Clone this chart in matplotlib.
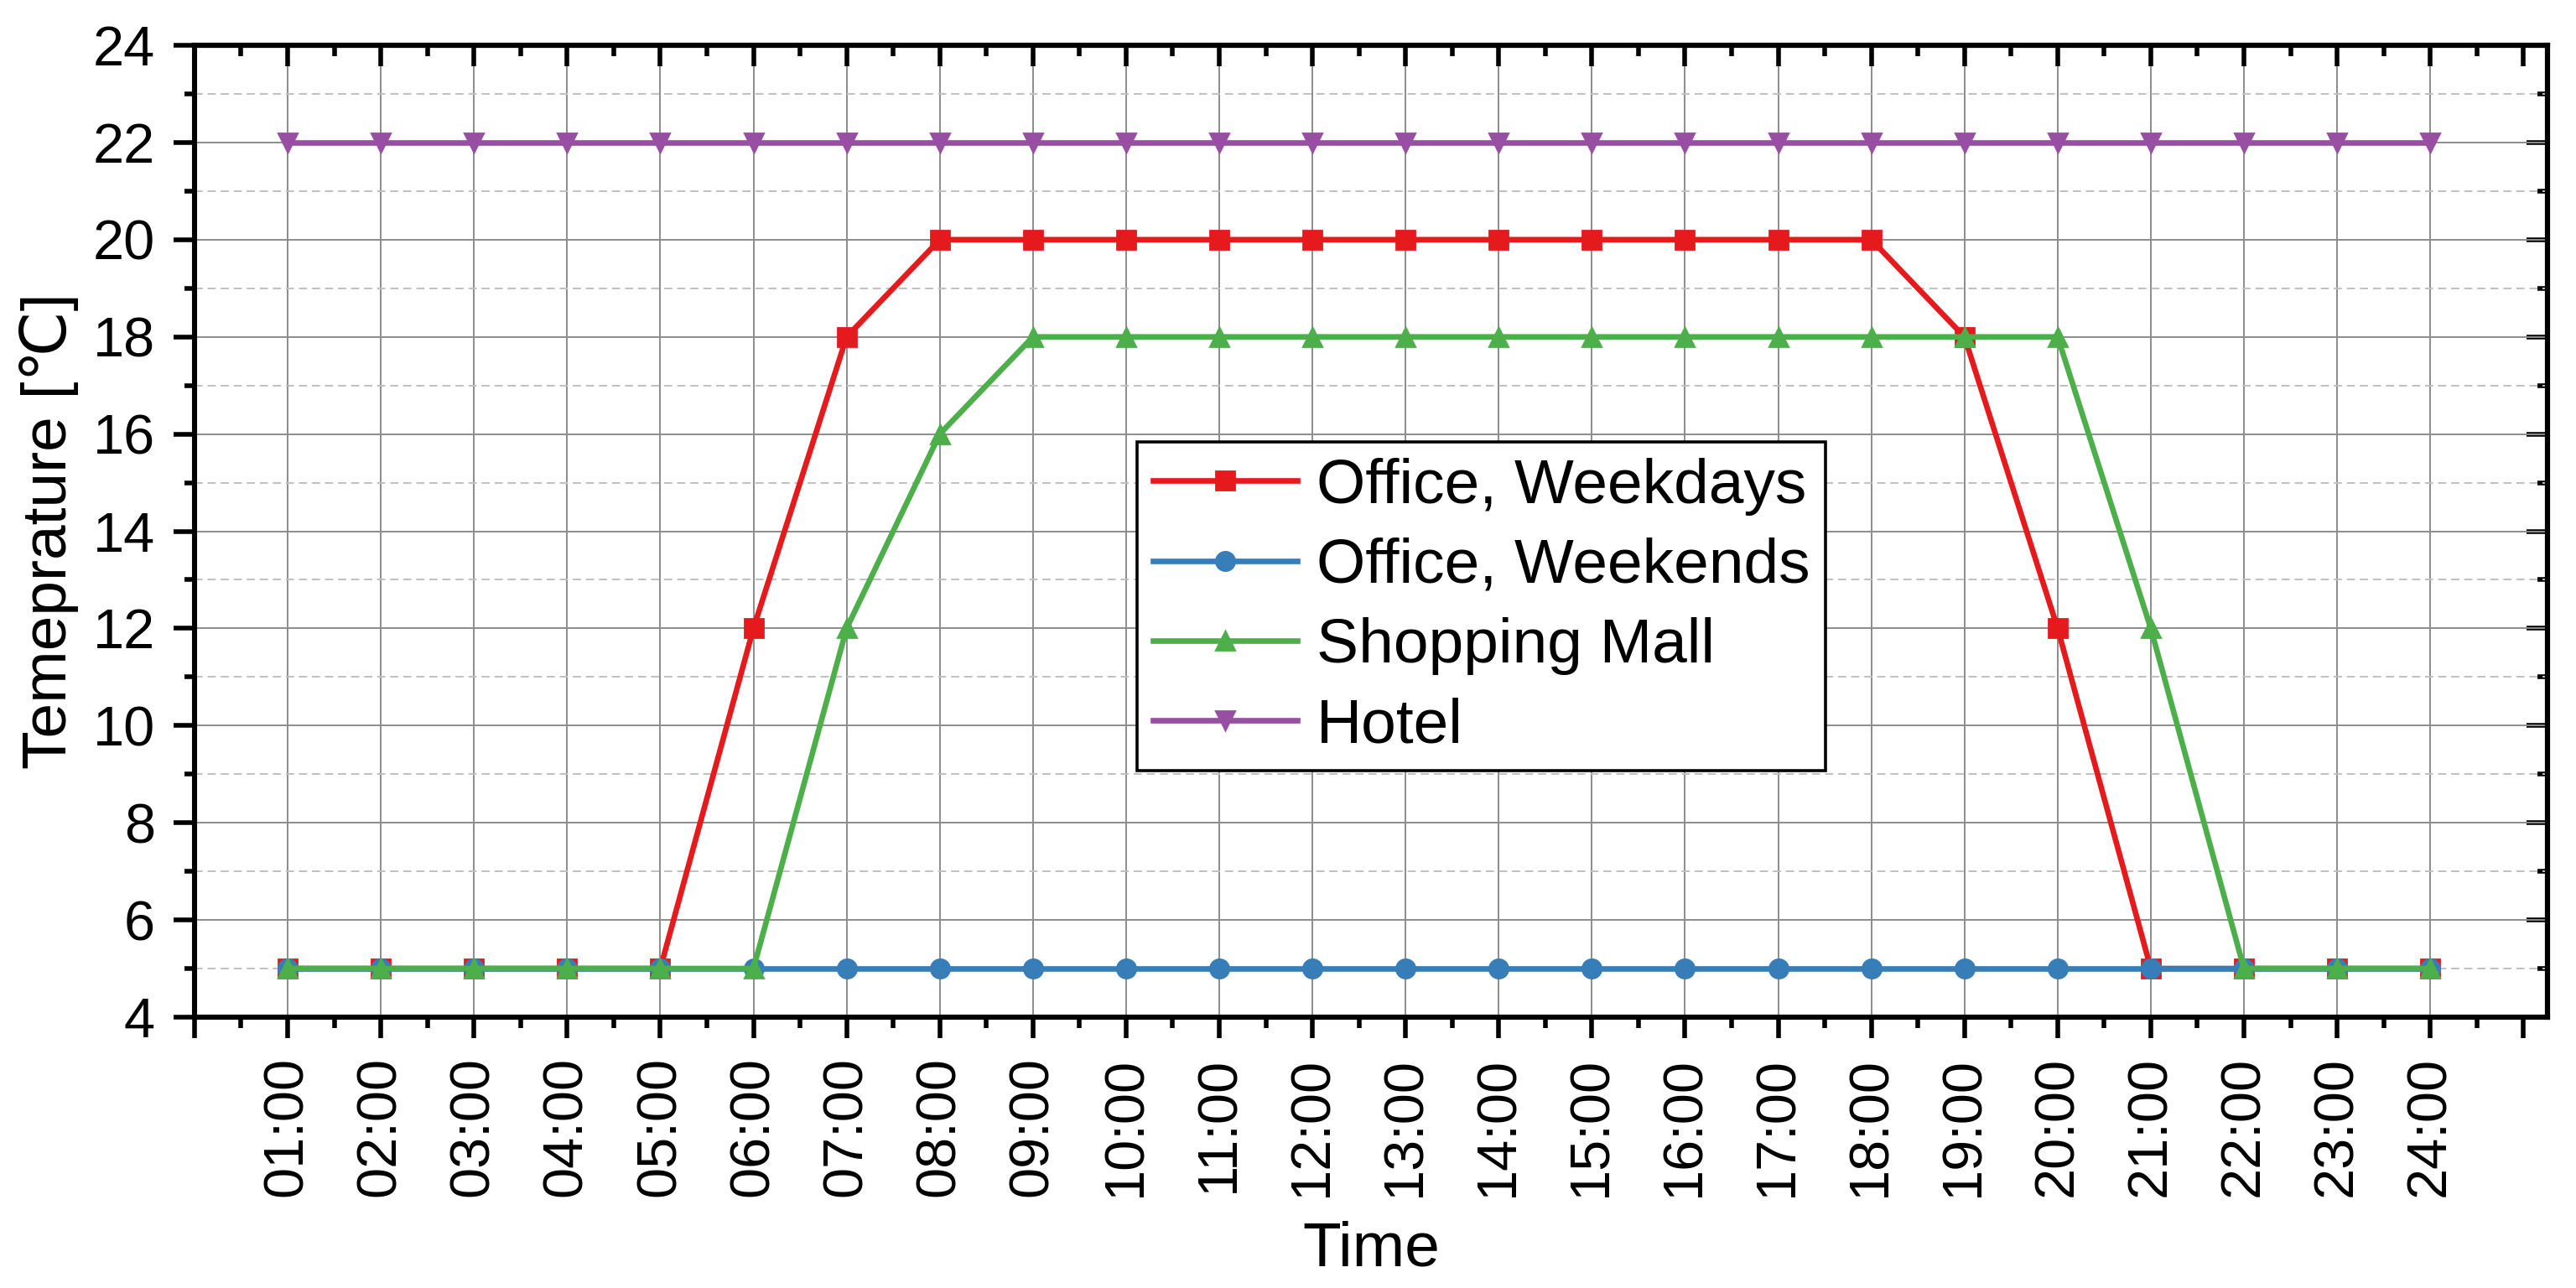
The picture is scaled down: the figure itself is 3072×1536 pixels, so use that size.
import numpy as np
import matplotlib
matplotlib.use("Agg")
import matplotlib.pyplot as plt
from matplotlib.ticker import MultipleLocator, FixedLocator

plt.rcParams['font.family'] = ['Liberation Sans', 'DejaVu Sans']

# hours of the day and their labels
hours = np.arange(1, 25)
hour_labels = ["%02d:00" % h for h in hours]

# set-point temperatures per hour
office_weekdays = [5, 5, 5, 5, 5, 12, 18, 20, 20, 20, 20, 20,
                   20, 20, 20, 20, 20, 20, 18, 12, 5, 5, 5, 5]
office_weekends = [5] * 24
shopping_mall = [5, 5, 5, 5, 5, 5, 12, 16, 18, 18, 18, 18,
                 18, 18, 18, 18, 18, 18, 18, 18, 12, 5, 5, 5]
hotel = [22] * 24

series = [
    ("Office, Weekdays", office_weekdays, "#E41A1C", "s"),
    ("Office, Weekends", office_weekends, "#377EB8", "o"),
    ("Shopping Mall", shopping_mall, "#4DAF4A", "^"),
    ("Hotel", hotel, "#984EA3", "v"),
]

fig = plt.figure(figsize=(15.36, 7.68), dpi=200)
ax = fig.add_axes([0.0755, 0.2103, 0.9135, 0.7545])

# grid
ax.vlines(hours, 4, 24, colors="#8c8c8c", linewidth=0.7, zorder=0)
ax.set_axisbelow(True)
ax.yaxis.grid(True, which="major", color="#8c8c8c", linewidth=0.7)
ax.yaxis.grid(True, which="minor", color="#c0c0c0", linewidth=0.7,
              linestyle=(0, (5, 3)))

for name, vals, col, mk in series:
    ax.plot(hours, vals, color=col, marker=mk, markersize=8,
            linewidth=2.4, label=name)

ax.set_xlim(0, 25.26)
ax.set_ylim(4, 24)

# x ticks: major every hour (0..25), labels only for 1..24
ax.xaxis.set_major_locator(FixedLocator(np.arange(0, 26)))
ax.set_xticklabels([""] + hour_labels + [""], rotation=90)
ax.xaxis.set_minor_locator(FixedLocator(np.arange(0.5, 25.5, 1.0)))
ax.yaxis.set_major_locator(MultipleLocator(2))
ax.yaxis.set_minor_locator(MultipleLocator(1))

ax.tick_params(which="major", direction="out", length=9, width=2.0,
               labelsize=24, pad=8)
ax.tick_params(which="minor", direction="out", length=4.5, width=2.0)
for s in ax.spines.values():
    s.set_linewidth(2.2)

# mirrored ticks pointing inward on top and right
top = ax.secondary_xaxis("top")
top.xaxis.set_major_locator(FixedLocator(np.arange(0, 26)))
top.xaxis.set_minor_locator(FixedLocator(np.arange(0.5, 25.5, 1.0)))
top.tick_params(which="major", direction="in", length=9, width=2.0, labeltop=False)
top.tick_params(which="minor", direction="in", length=4.5, width=2.0)
top.spines["top"].set_linewidth(2.2)

right = ax.secondary_yaxis("right")
right.yaxis.set_major_locator(MultipleLocator(2))
right.yaxis.set_minor_locator(MultipleLocator(1))
right.tick_params(which="major", direction="in", length=9, width=2.0, labelright=False)
right.tick_params(which="minor", direction="in", length=4.5, width=2.0)
right.spines["right"].set_linewidth(2.2)

ax.set_xlabel("Time", fontsize=27, labelpad=10)
ax.set_ylabel("Temeprature [℃]", fontsize=27, labelpad=6)

leg = ax.legend(loc="upper left", bbox_to_anchor=(0.4006, 0.592),
                fontsize=27, frameon=True, fancybox=False, framealpha=1,
                edgecolor="black", handlelength=2.3, handletextpad=0.3,
                labelspacing=0.35, borderpad=0.25, borderaxespad=0)
leg.get_frame().set_linewidth(1.3)

fig.savefig("out.png", dpi=200)
